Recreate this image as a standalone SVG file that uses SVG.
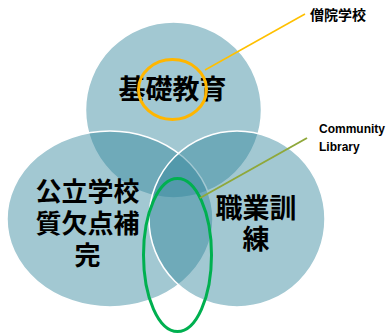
<svg xmlns="http://www.w3.org/2000/svg" width="387" height="335" viewBox="0 0 387 335">
<style>
.c{fill:#31849B;fill-opacity:0.45;stroke:#ffffff;stroke-width:1.5}
.t{font-family:"Liberation Sans","Noto Sans CJK JP","Noto Sans CJK SC",sans-serif;font-weight:bold;fill:#000;text-anchor:middle}
.l{font-family:"Liberation Sans",Arial,sans-serif;font-weight:bold;fill:#000}
</style>
<rect width="387" height="335" fill="#ffffff"/>
<g id="basic">
<circle class="c" cx="173.5" cy="110" r="88"/>
</g>
<g id="public">
<ellipse class="c" cx="110" cy="219" rx="103" ry="88"/>
</g>
<g id="vocational">
<circle class="c" cx="237" cy="219" r="88"/>
</g>
<g id="labels">
<text class="t" x="172.5" y="99" font-size="27">基礎教育</text>
<text class="t" font-size="26"><tspan x="87.5" y="201">公立学校</tspan><tspan x="87.5" y="233">質欠点補</tspan><tspan x="87.5" y="265">完</tspan></text>
<text class="t" font-size="27"><tspan x="256" y="218">職業訓</tspan><tspan x="256" y="249">練</tspan></text>
</g>
<g id="monastery">
<ellipse cx="172.5" cy="89.5" rx="34" ry="30" fill="none" stroke="#FFB600" stroke-width="3"/>
<text class="t" x="338" y="20" font-size="14">僧院学校</text>
</g>
<g id="library">
<ellipse cx="177.5" cy="255" rx="34" ry="76.5" fill="none" stroke="#00B050" stroke-width="3"/>
<text class="l" x="319" y="133" font-size="12">Community</text>
<text class="l" x="319" y="151" font-size="12">Library</text>
</g>
<g id="connectors">
<line x1="205" y1="70" x2="305" y2="14" stroke="#FFC000" stroke-width="1.5"/>
<line x1="200" y1="198" x2="307" y2="138" stroke="#8FA83A" stroke-width="2"/>
</g>
</svg>
